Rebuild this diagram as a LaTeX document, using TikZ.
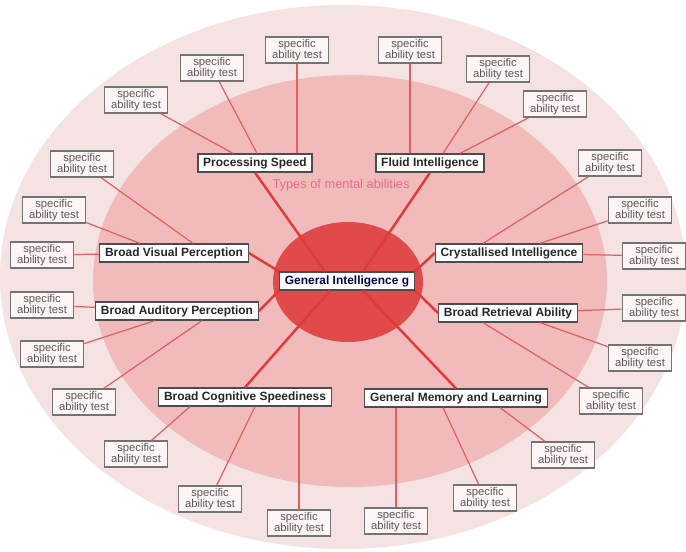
\documentclass[tikz,border=0pt]{standalone}
\usepackage{fontspec}
\setmainfont{Liberation Sans}
\usetikzlibrary{calc}
\definecolor{outerpink}{HTML}{F5E2E2}
\definecolor{midpink}{HTML}{F2BBBB}
\definecolor{innerred}{HTML}{E14A4A}
\definecolor{linkred}{HTML}{E03A3A}
\definecolor{sublinkred}{HTML}{DE6060}
\definecolor{typepink}{HTML}{EC6A86}

\begin{document}
\begin{tikzpicture}[x=0.02cm,y=-0.02cm,
  abilitybox/.style={draw=black!70,line width=0.7pt,fill=white,font=\fontsize{6.8}{8}\selectfont\bfseries,text=black!85,inner xsep=3pt,inner ysep=0pt,minimum height=0.36cm},
  testbox/.style={draw=black!55,line width=0.9pt,fill=white!96!red,font=\fontsize{6.4}{6.7}\selectfont,text=black!65,align=center,inner sep=1pt,minimum width=1.26cm,minimum height=0.52cm},
  link/.style={draw=linkred,line width=1.4pt},
  sublink/.style={draw=sublinkred,line width=0.7pt}]
\useasboundingbox (0,0) rectangle (686,551);
\fill[outerpink] (343,277) ellipse [x radius=343,y radius=272];
\fill[midpink] (350,281) ellipse [x radius=257,y radius=206];
\fill[innerred] (348,282) ellipse [x radius=75,y radius=60];
\node[text=typepink,font=\fontsize{7.3}{8}\selectfont] (T) at (341,185) {Types of mental abilities};
\node[abilitybox,text=black!70!blue] (G) at (347,281) {General Intelligence g};
\node[abilitybox] (PS) at (255,163) {Processing Speed};
\node[abilitybox] (FI) at (430,163) {Fluid Intelligence};
\node[abilitybox] (BVP) at (174,253) {Broad Visual Perception};
\node[abilitybox] (CI) at (509,253) {Crystallised Intelligence};
\node[abilitybox] (BAP) at (177,311) {Broad Auditory Perception};
\node[abilitybox] (BRA) at (508,313) {Broad Retrieval Ability};
\node[abilitybox] (BCS) at (245,397) {Broad Cognitive Speediness};
\node[abilitybox] (GML) at (456,398) {General Memory and Learning};
\node[testbox] (ps1) at (297,50) {specific\\ability test};
\node[testbox] (ps2) at (212,68) {specific\\ability test};
\node[testbox] (ps3) at (136,100) {specific\\ability test};
\node[testbox] (fi1) at (410,50) {specific\\ability test};
\node[testbox] (fi2) at (498,69) {specific\\ability test};
\node[testbox] (fi3) at (555,104) {specific\\ability test};
\node[testbox] (ci1) at (610,163) {specific\\ability test};
\node[testbox] (ci2) at (640,210) {specific\\ability test};
\node[testbox] (ci3) at (654,256) {specific\\ability test};
\node[testbox] (br1) at (654,308) {specific\\ability test};
\node[testbox] (br2) at (640,358) {specific\\ability test};
\node[testbox] (br3) at (611,401) {specific\\ability test};
\node[testbox] (gm1) at (563,455) {specific\\ability test};
\node[testbox] (gm2) at (485,498) {specific\\ability test};
\node[testbox] (gm3) at (396,521) {specific\\ability test};
\node[testbox] (bc1) at (299,523) {specific\\ability test};
\node[testbox] (bc2) at (210,499) {specific\\ability test};
\node[testbox] (bc3) at (136,454) {specific\\ability test};
\node[testbox] (ba1) at (42,305) {specific\\ability test};
\node[testbox] (ba2) at (52,354) {specific\\ability test};
\node[testbox] (ba3) at (84,402) {specific\\ability test};
\node[testbox] (bv1) at (42,255) {specific\\ability test};
\node[testbox] (bv2) at (54,210) {specific\\ability test};
\node[testbox] (bv3) at (82,164) {specific\\ability test};
\draw[link] ($(G.north)+(-22,0)$) -- (PS.south);
\draw[link] ($(G.north)+(16,0)$) -- (FI.south);
\draw[link] (G.north west) -- (BVP.east);
\draw[link] (G.north east) -- (CI.west);
\draw[link] (G.south west) -- (BAP.east);
\draw[link] (G.south east) -- (BRA.west);
\draw[link] ($(G.south)+(-17,0)$) -- (BCS.north);
\draw[link] ($(G.south)+(16,0)$) -- (GML.north);
\draw[sublink] (ps1.south) -- (ps1.south |- PS.north);
\draw[sublink] (ps2) -- ($(PS.north)+(2,0)$);
\draw[sublink] (ps3) -- ($(PS.north)+(-22,0)$);
\draw[sublink] (fi1.south) -- (fi1.south |- FI.north);
\draw[sublink] (fi2) -- ($(FI.north)+(13,0)$);
\draw[sublink] (fi3) -- ($(FI.north)+(30,0)$);
\draw[sublink] (ci1) -- ($(CI.north)+(-26,0)$);
\draw[sublink] (ci2) -- ($(CI.north)+(31,0)$);
\draw[sublink] (CI) -- (ci3);
\draw[sublink] (BRA) -- (br1);
\draw[sublink] (br2) -- ($(BRA.south)+(32,0)$);
\draw[sublink] (br3) -- ($(BRA.south)+(-25,0)$);
\draw[sublink] (gm1) -- ($(GML.south)+(44,0)$);
\draw[sublink] (gm2) -- ($(GML.south)+(-13,0)$);
\draw[sublink] (gm3.north) -- (gm3.north |- GML.south);
\draw[sublink] (bc1.north) -- (bc1.north |- BCS.south);
\draw[sublink] (bc2) -- ($(BCS.south)+(10,0)$);
\draw[sublink] (bc3) -- ($(BCS.south)+(-55,0)$);
\draw[sublink] (BAP) -- (ba1);
\draw[sublink] (ba2) -- ($(BAP.south)+(-22,0)$);
\draw[sublink] (ba3) -- ($(BAP.south)+(25,0)$);
\draw[sublink] (BVP) -- (bv1);
\draw[sublink] (bv2) -- ($(BVP.north)+(-34,0)$);
\draw[sublink] (bv3) -- ($(BVP.north)+(19,0)$);
\end{tikzpicture}
\end{document}
